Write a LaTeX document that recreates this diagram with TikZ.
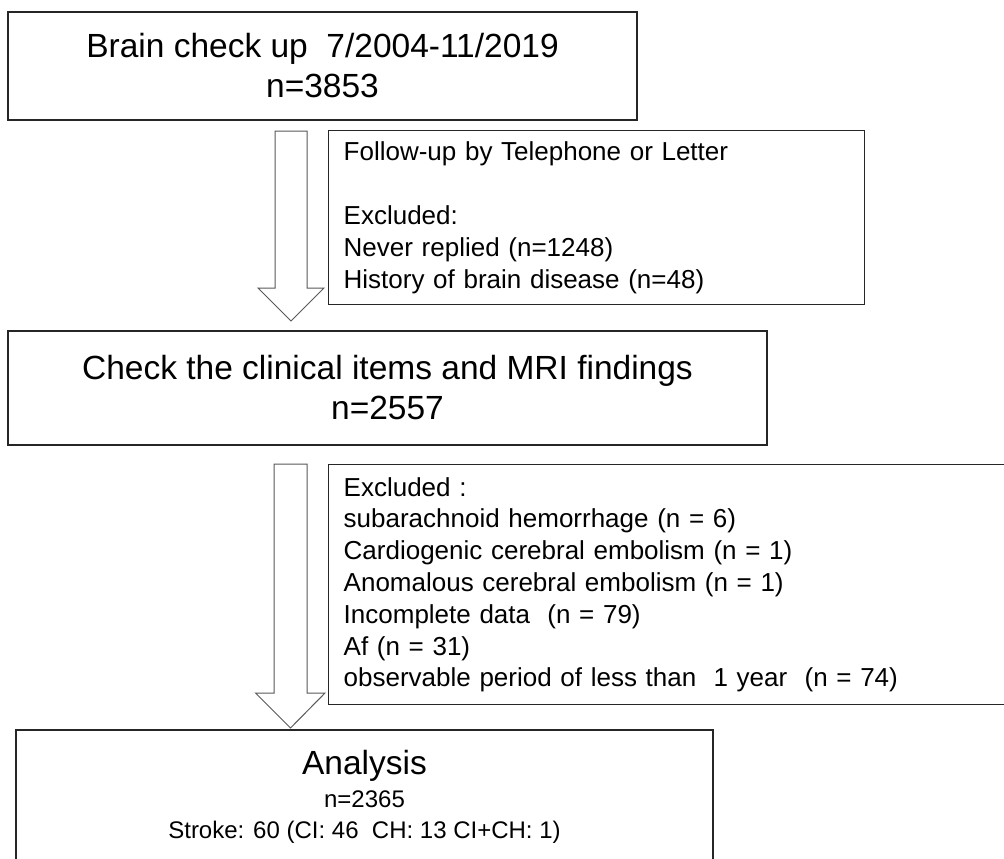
\documentclass[tikz,border=0pt]{standalone}
\usepackage{fontspec}
\setmainfont{Liberation Sans}
\usetikzlibrary{positioning}
\tikzset{
  stagebox/.style={draw=black!85,line width=1.4pt,rectangle,align=center,
    font=\fontsize{33.5}{40}\selectfont},
  notebox/.style={draw=black!85,line width=1.4pt,rectangle,align=left,anchor=north west,
    inner xsep=15pt,font=\fontsize{26}{31.8}\selectfont},
  hollow/.style={draw=black!65,line width=1pt,fill=white,line join=miter}
}
\begin{document}
\begin{tikzpicture}[x=1pt,y=-1pt]
    \clip (0,0) rectangle (1004,859);
    \fill[white] (0,0) rectangle (1004,859);
    %% Stages
    \node[stagebox,minimum width=629pt,minimum height=108pt] (checkup) at (322.5,66) {Brain check up\ \ 7/2004-11/2019\\n=3853};
    \node[stagebox,minimum width=759pt,minimum height=114pt] (clinical) at (387.5,388) {Check the clinical items and MRI findings\\n=2557};
    \node[stagebox,minimum width=697pt,minimum height=134pt,font=\fontsize{24}{31}\selectfont] (analysis) at (364.5,797)
        {{\fontsize{33.5}{40}\selectfont Analysis}\\[2pt]n=2365\\Stroke: 60 (CI: 46\ \ CH: 13 CI+CH: 1)};
    %% Exclusions
    \node[notebox,minimum width=536pt,minimum height=174pt,text width=506pt] (followup) at (328,130)
        {Follow-up by Telephone or Letter\\[31.8pt]Excluded:\\Never replied (n=1248)\\History of brain disease (n=48)};
    \node[notebox,minimum width=700pt,minimum height=240pt,text width=670pt] (excluded) at (328,464)
        {Excluded :\\subarachnoid hemorrhage (n = 6)\\Cardiogenic cerebral embolism (n = 1)\\Anomalous cerebral embolism (n = 1)\\Incomplete data\ \ (n = 79)\\Af (n = 31)\\observable period of less than\ \ 1 year\ \ (n = 74)};
    %% Block arrows
    \coordinate (top1) at (291,131);
    \coordinate (tip1) at (291,321);
    \coordinate (top2) at (290.5,464);
    \coordinate (tip2) at (290.5,728);
    \draw[hollow] (top1) ++(-16,0) -- ++(32,0) -- ++(0,157) -- ++(17,0) -- (tip1) -- ++(-33,-33) -- ++(17,0) -- cycle;
    \draw[hollow] (top2) ++(-16.5,0) -- ++(33,0) -- ++(0,229) -- ++(18,0) -- (tip2) -- ++(-35,-35) -- ++(18.5,0) -- cycle;
\end{tikzpicture}
\end{document}
